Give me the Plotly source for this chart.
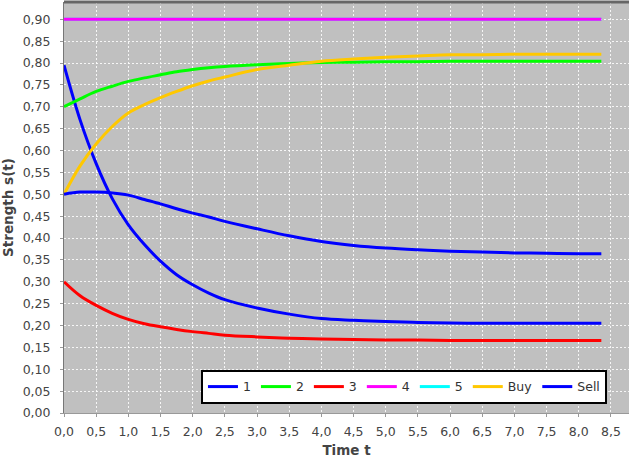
import plotly.graph_objects as go

t = [0, 0.25, 0.5, 0.75, 1.0, 1.25, 1.5, 1.75, 2.0, 2.25, 2.5, 3.0, 3.5, 4.0, 4.5,
     5.0, 5.5, 6.0, 6.5, 7.0, 7.5, 8.0, 8.35]

s1 = [0.795, 0.67, 0.57, 0.49, 0.43, 0.385, 0.347, 0.316, 0.293, 0.274, 0.259, 0.240, 0.226,
      0.216, 0.212, 0.209, 0.207, 0.206, 0.205, 0.205, 0.205, 0.205, 0.205]
s2 = [0.700, 0.718, 0.735, 0.747, 0.758, 0.766, 0.773, 0.780, 0.785, 0.789, 0.792, 0.796, 0.799,
      0.801, 0.802, 0.803, 0.803, 0.804, 0.804, 0.804, 0.804, 0.804, 0.804]
s3 = [0.300, 0.268, 0.246, 0.228, 0.214, 0.204, 0.197, 0.191, 0.186, 0.182, 0.178, 0.174, 0.171,
      0.169, 0.168, 0.167, 0.167, 0.166, 0.166, 0.166, 0.166, 0.166, 0.166]
s4 = [0.90] * len(t)
s5 = [0.90] * len(t)
s_buy = [0.500, 0.565, 0.615, 0.655, 0.686, 0.705, 0.721, 0.735, 0.748, 0.759, 0.768, 0.785, 0.795,
         0.804, 0.809, 0.813, 0.816, 0.819, 0.819, 0.820, 0.820, 0.820, 0.820]
s_sell = [0.500, 0.505, 0.505, 0.503, 0.498, 0.488, 0.478, 0.467, 0.457, 0.448, 0.438, 0.421, 0.405,
          0.392, 0.383, 0.377, 0.373, 0.370, 0.368, 0.366, 0.365, 0.364, 0.364]

series = [
    ("5", s5, "#00ffff", 5),
    ("1", s1, "#0000ff", 1),
    ("2", s2, "#00ff00", 2),
    ("3", s3, "#ff0000", 3),
    ("4", s4, "#ff00ff", 4),
    ("Buy", s_buy, "#ffc800", 6),
    ("Sell", s_sell, "#0000ff", 7),
]

fig = go.Figure()
for name, ys, col, rank in series:
    fig.add_trace(go.Scatter(x=t, y=ys, name=name, mode="lines",
                             line=dict(color=col, width=3, shape="spline"),
                             legendrank=rank))

tickfont = dict(family="DejaVu Sans", size=12.5, color="#444444")
titlefont = dict(family="DejaVu Sans", size=13.5, color="#444444", weight="bold")
fig.update_layout(
    width=630, height=458,
    margin=dict(l=64, r=1, t=2, b=45),
    paper_bgcolor="white",
    plot_bgcolor="#c0c0c0",
    separators=",.",
    font=dict(family="DejaVu Sans", size=12.5, color="#444444"),
    showlegend=True,
    legend=dict(orientation="h", x=0.961, y=0.022, xanchor="right", yanchor="bottom",
                bgcolor="white", bordercolor="black", borderwidth=2,
                font=dict(family="DejaVu Sans", size=12.5, color="#333333"),
                tracegroupgap=0),
    xaxis=dict(range=[0, 8.78], dtick=0.5, tick0=0, tickformat=".1f", automargin=False,
               showgrid=True, gridcolor="rgba(255,255,255,0.85)", griddash="2px,2px",
               gridwidth=1, zeroline=False, showline=True, linecolor="#999999",
               ticks="outside", ticklen=3, tickcolor="#999999", tickfont=tickfont,
               ticklabelstandoff=4,
               title=dict(text="Time t", font=titlefont)),
    yaxis=dict(range=[0, 0.9395], dtick=0.05, tick0=0, tickformat=".2f", automargin=False,
               showgrid=True, gridcolor="rgba(255,255,255,0.85)", griddash="2px,2px",
               gridwidth=1, zeroline=False, showline=True, linecolor="#777777",
               ticks="outside", ticklen=3, tickcolor="#999999", tickfont=tickfont,
               ticklabelstandoff=7,
               title=dict(text="Strength s(t)", font=titlefont)),
    shapes=[dict(type="line", xref="paper", yref="paper", x0=0, x1=1, y0=1, y1=1,
                 line=dict(color="#666666", width=3))],
)

fig.write_html("out.html", config={"displayModeBar": False},
               post_script="document.body.style.margin='0';")
